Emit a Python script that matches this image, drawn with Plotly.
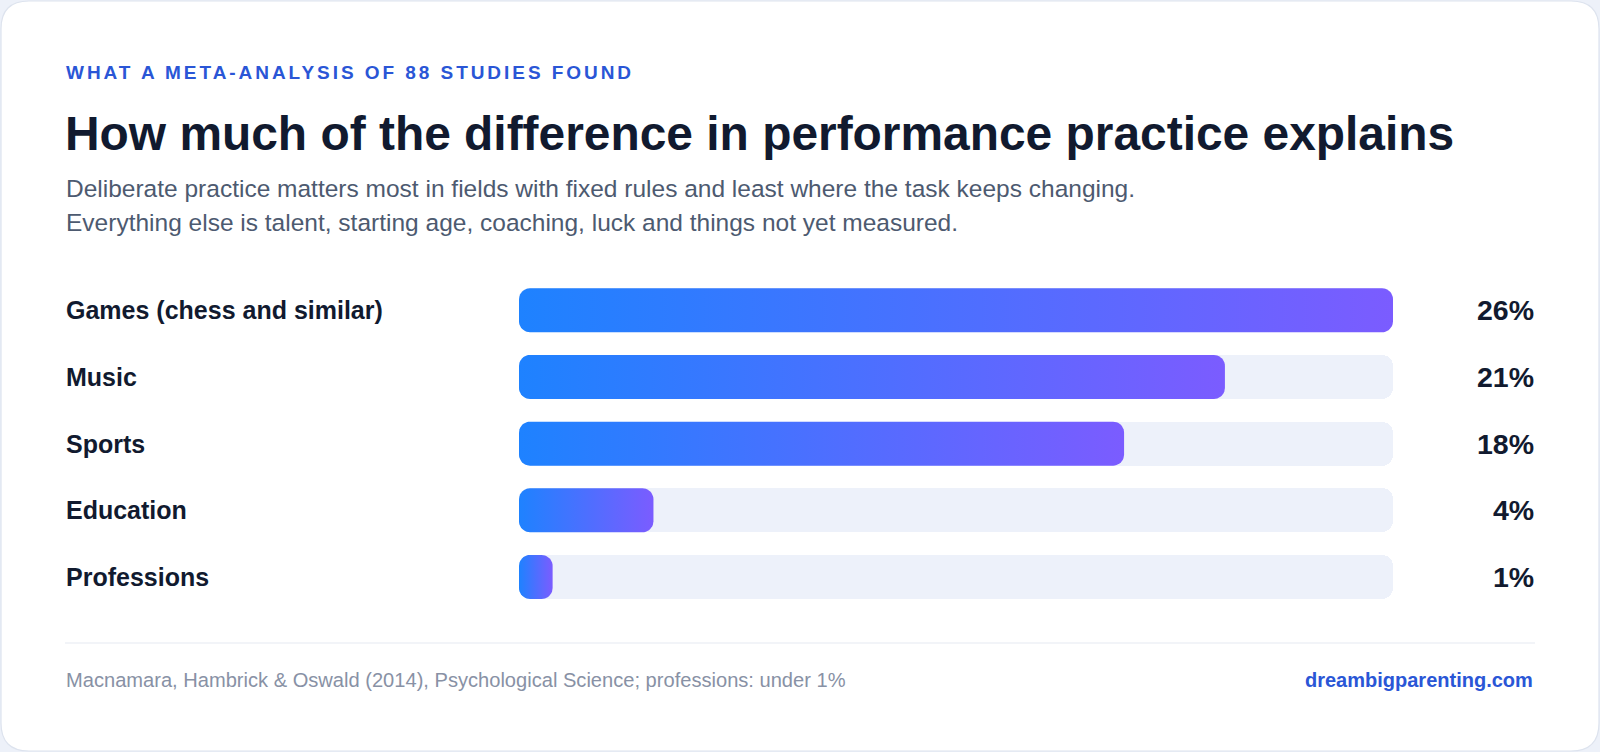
import math
import plotly.graph_objects as go

# ---------------- data ----------------
categories = ["Games (chess and similar)", "Music", "Sports", "Education", "Professions"]
values = [26, 21, 18, 4, 1]
value_labels = ["26%", "21%", "18%", "4%", "1%"]
axis_max = 26

eyebrow = "WHAT A META-ANALYSIS OF 88 STUDIES FOUND"
title = "How much of the difference in performance practice explains"
subtitle_lines = [
    "Deliberate practice matters most in fields with fixed rules and least where the task keeps changing.",
    "Everything else is talent, starting age, coaching, luck and things not yet measured.",
]
source = "Macnamara, Hambrick &amp; Oswald (2014), Psychological Science; professions: under 1%"
site = "dreambigparenting.com"

# ---------------- styling ----------------
W, H = 1600, 752
FONT = "Liberation Sans, Arial, Helvetica, sans-serif"
DARK = "#111a2f"
SLATE = "#4d5a70"
GREY = "#8891a5"
BLUE = "#2a56d6"
TRACK = "#edf1fa"
OUTER = "#edf1f9"
GRAD = [[0, "#1e82ff"], [1, "#7b5cff"]]

X0_PX, X1_PX = 519, 1393
ROW0_PX, ROW_STEP = 310.3, 66.67
BAR_H_PX = 44
RADIUS_PX = 11
n_rows = len(categories)

y_top_px = ROW0_PX - ROW_STEP / 2
y_bot_px = ROW0_PX + (n_rows - 0.5) * ROW_STEP
px_per_x = (X1_PX - X0_PX) / axis_max
px_per_y = ROW_STEP


def px(x):
    return x / W


def py(y):
    return 1 - y / H


def rounded_bar(x0, x1, yc, half_h, rx, ry, n=10):
    rx = min(rx, (x1 - x0) / 2)
    ry = min(ry, half_h)
    xs, ys = [], []
    corners = [
        (x1 - rx, yc - half_h + ry, -90, 0),
        (x1 - rx, yc + half_h - ry, 0, 90),
        (x0 + rx, yc + half_h - ry, 90, 180),
        (x0 + rx, yc - half_h + ry, 180, 270),
    ]
    for cx, cy, a0, a1 in corners:
        for i in range(n + 1):
            a = math.radians(a0 + (a1 - a0) * i / n)
            xs.append(cx + rx * math.cos(a))
            ys.append(cy + ry * math.sin(a))
    xs.append(xs[0])
    ys.append(ys[0])
    return xs, ys


fig = go.Figure()

ypos = list(range(n_rows))
half_h = BAR_H_PX / 2 / px_per_y

# background tracks
fig.add_trace(go.Bar(
    x=[axis_max] * n_rows, y=ypos, orientation="h", base=0,
    width=BAR_H_PX / px_per_y,
    marker=dict(color=TRACK, cornerradius=RADIUS_PX, line=dict(width=0)),
    hoverinfo="skip", showlegend=False,
))

# gradient bars
for i, v in enumerate(values):
    xs, ys = rounded_bar(0, v, i, half_h, RADIUS_PX / px_per_x, RADIUS_PX / px_per_y)
    fig.add_trace(go.Scatter(
        x=xs, y=ys, mode="lines", line=dict(width=0, color="rgba(0,0,0,0)"),
        fill="toself",
        fillgradient=dict(type="horizontal", colorscale=GRAD),
        hoverinfo="skip", showlegend=False,
    ))

annotations = []
for i, (c, lab) in enumerate(zip(categories, value_labels)):
    annotations.append(dict(
        x=px(64), xref="paper", y=i, yref="y", xanchor="left", yanchor="middle",
        text=f"<b>{c}</b>", showarrow=False,
        font=dict(family=FONT, size=25, color=DARK),
    ))
    annotations.append(dict(
        x=px(1536), xref="paper", y=i, yref="y", xanchor="right", yanchor="middle",
        text=f"<b>{lab}</b>", showarrow=False,
        font=dict(family=FONT, size=28.5, color=DARK),
    ))

annotations.append(dict(
    x=px(64), y=py(72.5), xref="paper", yref="paper", xanchor="left", yanchor="middle",
    text=f'<span style="letter-spacing:2.95px"><b>{eyebrow}</b></span>', showarrow=False,
    font=dict(family=FONT, size=19, color=BLUE),
))
annotations.append(dict(
    x=px(63), y=py(133), xref="paper", yref="paper", xanchor="left", yanchor="middle",
    text=f"<b>{title}</b>", showarrow=False,
    font=dict(family=FONT, size=47.9, color=DARK),
))
for k, line in enumerate(subtitle_lines):
    annotations.append(dict(
        x=px(64), y=py(188.5 + 34 * k), xref="paper", yref="paper", xanchor="left", yanchor="middle",
        text=line, showarrow=False,
        font=dict(family=FONT, size=24.5, color=SLATE),
    ))
annotations.append(dict(
    x=px(64), y=py(680), xref="paper", yref="paper", xanchor="left", yanchor="middle",
    text=source, showarrow=False,
    font=dict(family=FONT, size=20.1, color=GREY),
))
annotations.append(dict(
    x=px(1535), y=py(680), xref="paper", yref="paper", xanchor="right", yanchor="middle",
    text=f"<b>{site}</b>", showarrow=False,
    font=dict(family=FONT, size=20, color=BLUE),
))

# card path
def card_path(x0, y0, x1, y1, r):
    rx, ry = r / W, r / H
    X0, X1 = px(x0), px(x1)
    Yt, Yb = py(y0), py(y1)
    return (f"M {X0+rx},{Yt} L {X1-rx},{Yt} Q {X1},{Yt} {X1},{Yt-ry} "
            f"L {X1},{Yb+ry} Q {X1},{Yb} {X1-rx},{Yb} "
            f"L {X0+rx},{Yb} Q {X0},{Yb} {X0},{Yb+ry} "
            f"L {X0},{Yt-ry} Q {X0},{Yt} {X0+rx},{Yt} Z")


shapes = [
    dict(type="path", xref="paper", yref="paper", path=card_path(1, 1, 1599, 751, 28),
         fillcolor="#ffffff", line=dict(color="#dde3ee", width=1.2), layer="below"),
    dict(type="line", xref="paper", yref="paper", x0=px(65), x1=px(1535),
         y0=py(643), y1=py(643), line=dict(color="#e6eaf1", width=1.2)),
]

fig.update_layout(
    width=W, height=H,
    margin=dict(l=0, r=0, t=0, b=0),
    paper_bgcolor=OUTER, plot_bgcolor="rgba(0,0,0,0)",
    xaxis=dict(domain=[px(X0_PX), px(X1_PX)], range=[0, axis_max], visible=False, fixedrange=True),
    yaxis=dict(domain=[py(y_bot_px), py(y_top_px)], range=[n_rows - 0.5, -0.5],
               visible=False, fixedrange=True),
    annotations=annotations, shapes=shapes,
    showlegend=False, bargap=0,
)

fig.write_html("out.html", config={"displayModeBar": False},
               post_script="document.body.style.margin='0';document.body.style.overflow='hidden';")
